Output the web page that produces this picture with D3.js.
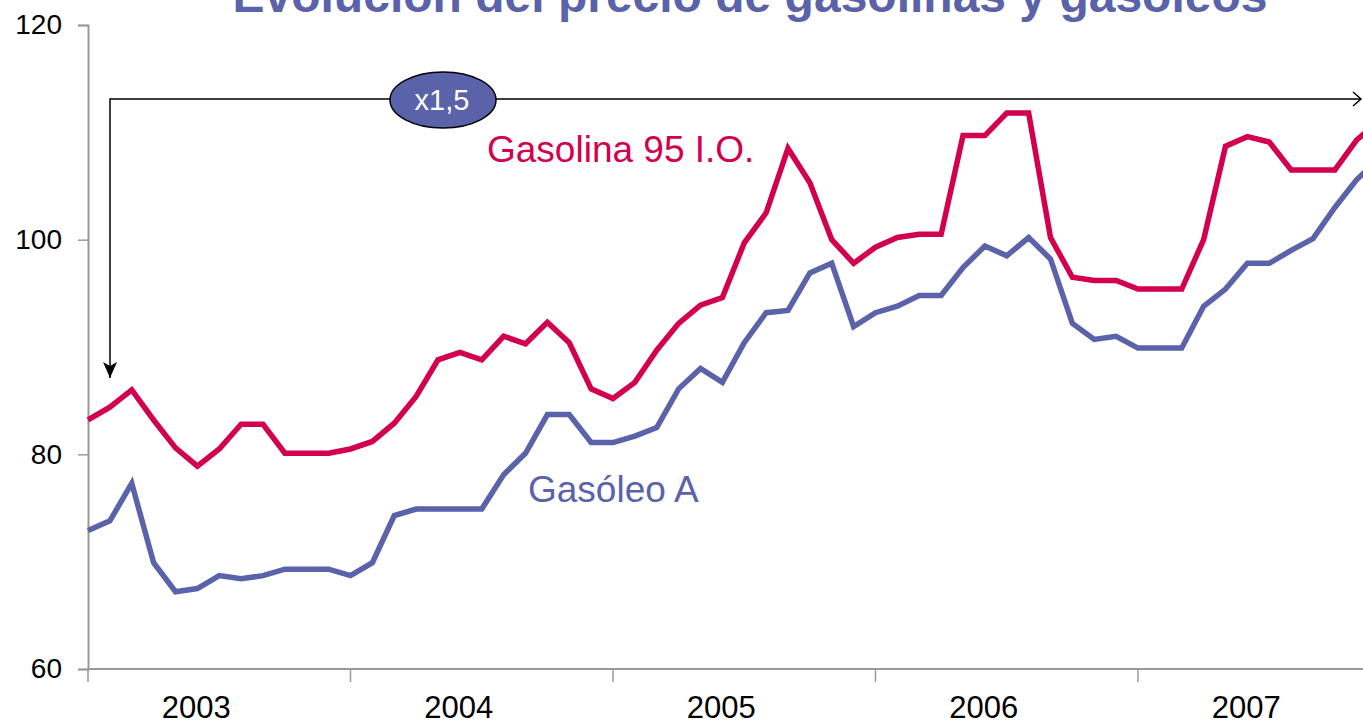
<!DOCTYPE html>
<html>
<meta charset="utf-8">
<head>
    <script src="https://d3js.org/d3.v7.min.js"></script>
    <style>
        body { margin: 0; background: white; }
        text { font-family: Arial, "Liberation Sans", sans-serif; }
    </style>
</head>
<body>
    <script>

        // monthly prices, Jan 2003 .. Dec 2007 (index base)
        var gasolina = [
            83.2, 84.4, 86.0, 83.2, 80.6, 78.9, 80.5, 82.8, 82.8, 80.1, 80.1, 80.1,
            80.5, 81.2, 82.9, 85.4, 88.8, 89.5, 88.8, 91.0, 90.3, 92.3, 90.4, 86.1,
            85.2, 86.7, 89.7, 92.2, 93.9, 94.6, 99.7, 102.5, 108.5, 105.3, 100.0, 97.8,
            99.3, 100.2, 100.5, 100.5, 109.7, 109.7, 111.8, 111.8, 100.2, 96.5, 96.2, 96.2,
            95.4, 95.4, 95.4, 100.0, 108.7, 109.6, 109.1, 106.5, 106.5, 106.5, 109.3, 111.0
        ];
        var gasoleo = [
            72.9, 73.8, 77.3, 69.9, 67.2, 67.5, 68.7, 68.4, 68.7, 69.3, 69.3, 69.3,
            68.7, 69.9, 74.3, 74.9, 74.9, 74.9, 74.9, 78.1, 80.1, 83.7, 83.7, 81.1,
            81.1, 81.7, 82.5, 86.1, 88.0, 86.7, 90.4, 93.2, 93.4, 96.9, 97.8, 91.9,
            93.2, 93.8, 94.8, 94.8, 97.4, 99.4, 98.5, 100.2, 98.2, 92.2, 90.7, 91.0,
            89.9, 89.9, 89.9, 93.8, 95.4, 97.8, 97.8, 99.0, 100.1, 103.0, 105.6, 107.5
        ];
        var years = ["2003", "2004", "2005", "2006", "2007"];
        var yTicks = [60, 80, 100, 120];

        var width = 1363,
            height = 723,
            red = "#d2004f",
            blue = "#5a62aa";

        var svg = d3.select("body").append("svg")
            .attr("width", width)
            .attr("height", height);

        var x = d3.scaleLinear()
            .domain([0, 60])
            .range([88, 88 + 60 * 21.875]);

        var y = d3.scaleLinear()
            .domain([60, 120])
            .range([669, 25]);

        // title (partly cut off at the top)
        svg.append("text")
            .attr("x", 750)
            .attr("y", 12)
            .attr("text-anchor", "middle")
            .attr("font-size", 48)
            .attr("font-weight", "bold")
            .attr("fill", blue)
            .text("Evolución del precio de gasolinas y gasóleos");

        // y axis
        var yAxis = svg.append("g")
            .attr("transform", "translate(88,0)")
            .call(d3.axisLeft(y).tickValues(yTicks).tickSize(10).tickPadding(16));
        yAxis.select(".domain").attr("stroke", "#999").attr("stroke-width", 2);
        yAxis.selectAll(".tick line").attr("stroke", "#999").attr("stroke-width", 1.5);
        yAxis.selectAll(".tick text")
            .attr("font-size", 28)
            .attr("font-family", "Arial, 'Liberation Sans', sans-serif")
            .attr("fill", "#000");

        // x axis
        svg.append("line")
            .attr("x1", 88).attr("x2", width)
            .attr("y1", y(60)).attr("y2", y(60))
            .attr("stroke", "#999")
            .attr("stroke-width", 2);

        svg.selectAll(".xtick")
            .data(years)
            .enter()
            .append("line")
            .attr("class", "xtick")
            .attr("x1", (d, i) => x(i * 12))
            .attr("x2", (d, i) => x(i * 12))
            .attr("y1", y(60))
            .attr("y2", y(60) + 13)
            .attr("stroke", "#999")
            .attr("stroke-width", 1.5);

        svg.selectAll(".xlabel")
            .data(years)
            .enter()
            .append("text")
            .attr("class", "xlabel")
            .attr("x", (d, i) => x(i * 12 + 4.95))
            .attr("y", 718)
            .attr("text-anchor", "middle")
            .attr("font-size", 31)
            .attr("fill", "#000")
            .text(d => d);

        // series
        var line = d3.line()
            .x((d, i) => x(i))
            .y(d => y(d));

        svg.append("path")
            .datum(gasoleo)
            .attr("d", line)
            .attr("fill", "none")
            .attr("stroke", blue)
            .attr("stroke-width", 5.5)
            .attr("stroke-linejoin", "miter");

        svg.append("path")
            .datum(gasolina)
            .attr("d", line)
            .attr("fill", "none")
            .attr("stroke", red)
            .attr("stroke-width", 5.5)
            .attr("stroke-linejoin", "miter");

        // series labels
        svg.append("text")
            .attr("x", 487).attr("y", 162)
            .attr("font-size", 37)
            .attr("fill", red)
            .text("Gasolina 95 I.O.");

        svg.append("text")
            .attr("x", 528).attr("y", 502)
            .attr("font-size", 37)
            .attr("fill", blue)
            .text("Gasóleo A");

        // x1,5 annotation arrows
        var defs = svg.append("defs");
        defs.append("marker")
            .attr("id", "solid")
            .attr("markerUnits", "userSpaceOnUse")
            .attr("viewBox", "0 0 14 16")
            .attr("refX", 7).attr("refY", 16)
            .attr("markerWidth", 14).attr("markerHeight", 16)
            .attr("orient", "0")
            .append("path")
            .attr("d", "M0,0 L7,4 L14,0 L7,16 Z")
            .attr("fill", "#000");

        svg.append("path")
            .attr("d", "M110,378 L110,99 L1360,99")
            .attr("fill", "none")
            .attr("stroke", "#000")
            .attr("stroke-width", 1.5)
            .attr("marker-start", "url(#solid)");

        svg.append("path")
            .attr("d", "M1353,92 L1361,99 L1353,106")
            .attr("fill", "none")
            .attr("stroke", "#000")
            .attr("stroke-width", 1.5);

        svg.append("ellipse")
            .attr("cx", 443).attr("cy", 100)
            .attr("rx", 53).attr("ry", 28)
            .attr("fill", blue)
            .attr("stroke", "#000")
            .attr("stroke-width", 1.5);

        svg.append("text")
            .attr("x", 442).attr("y", 110)
            .attr("text-anchor", "middle")
            .attr("font-size", 29)
            .attr("fill", "#fff")
            .text("x1,5");

    </script>
</body>
</html>
